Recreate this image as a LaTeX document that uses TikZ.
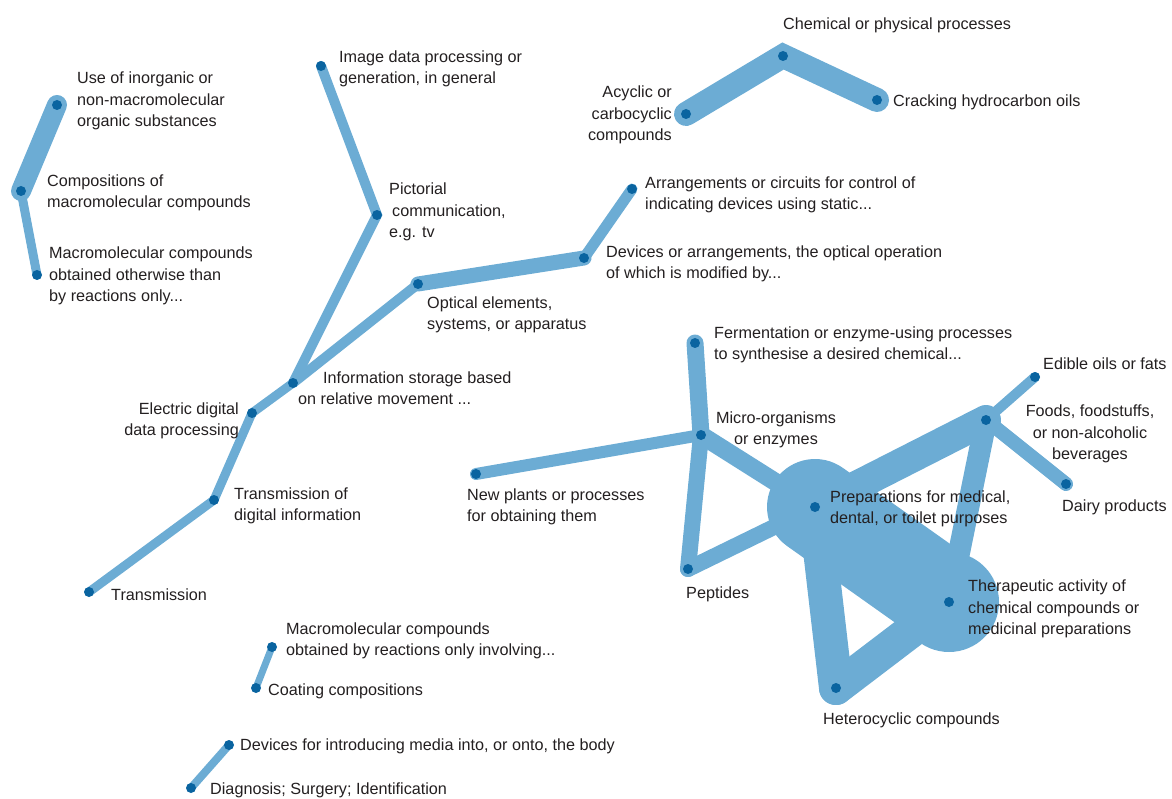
\documentclass[tikz,border=0pt]{standalone}
\usepackage{fontspec}
\setmainfont{Liberation Sans}
\definecolor{bandc}{RGB}{108,172,212}
\definecolor{dotc}{RGB}{10,100,160}
\definecolor{txt}{RGB}{35,31,32}
\tikzset{
  bandline/.style={draw=bandc, line cap=round, line join=round},
  dotn/.style={circle, fill=dotc, inner sep=0pt, minimum size=10pt},
  lbl/.style={inner sep=0pt, text=txt, font=\fontsize{16.2}{21.5}\selectfont, align=left},
}
\begin{document}
\begin{tikzpicture}[x=1pt,y=-1pt]
\useasboundingbox (0,0) rectangle (1172,799);
% positions
\coordinate (use) at (57,105);
\coordinate (comp) at (21,191);
\coordinate (mot) at (37,275);
\coordinate (img) at (321,66);
\coordinate (pict) at (377,215);
\coordinate (info) at (293,383);
\coordinate (elec) at (252,413);
\coordinate (tdig) at (214,500);
\coordinate (trans) at (89,592);
\coordinate (opt) at (418,284);
\coordinate (dev) at (584,258);
\coordinate (arr) at (632,189);
\coordinate (chem) at (783,56);
\coordinate (acy) at (686,114);
\coordinate (crack) at (877,100);
\coordinate (ferm) at (695,343);
\coordinate (micro) at (701,435);
\coordinate (plants) at (476,474);
\coordinate (pept) at (688,569);
\coordinate (prep) at (815,507);
\coordinate (ther) at (949,602);
\coordinate (het) at (836,688);
\coordinate (foods) at (986,420);
\coordinate (edible) at (1035,377);
\coordinate (dairy) at (1066,484);
\coordinate (mreact) at (272,647);
\coordinate (coat) at (256,688);
\coordinate (devin) at (229,745);
\coordinate (diag) at (191,788);
% bands
\draw[bandline, line width=20pt] (use) -- (comp);
\draw[bandline, line width=9pt] (comp) -- (mot);
\draw[bandline, line width=10pt, line join=miter] (img) -- (pict) -- (info);
\draw[bandline, line width=9pt] (info) -- (elec);
\draw[bandline, line width=9pt] (elec) -- (tdig);
\draw[bandline, line width=9pt] (tdig) -- (trans);
\draw[bandline, line width=10pt] (info) -- (opt);
\draw[bandline, line width=15pt] (opt) -- (dev);
\draw[bandline, line width=11pt] (dev) -- (arr);
\draw[bandline, line width=24pt, line join=miter] (acy) -- (chem) -- (crack);
\draw[bandline, line width=17pt] (ferm) -- (micro);
\draw[bandline, line width=12pt] (micro) -- (plants);
\draw[bandline, line width=16pt] (micro) -- (pept);
\draw[bandline, line width=18pt] (micro) -- (prep);
\draw[bandline, line width=16pt] (pept) -- (prep);
\draw[bandline, line width=30pt] (prep) -- (foods);
\draw[bandline, line width=10pt] (foods) -- (edible);
\draw[bandline, line width=14pt] (foods) -- (dairy);
\draw[bandline, line width=22pt] (foods) -- (ther);
\draw[bandline, line width=96pt] (prep) -- (ther);
\draw[bandline, line width=34pt] (prep) -- (het);
\draw[bandline, line width=34pt] (het) -- (ther);
\fill[bandc] (ther) circle (50pt);
\draw[bandline, line width=7pt] (mreact) -- (coat);
\draw[bandline, line width=8pt] (devin) -- (diag);
% dots
\foreach \p in {use,comp,mot,img,pict,info,elec,tdig,trans,opt,dev,arr,chem,acy,crack,ferm,micro,plants,pept,prep,ther,het,foods,edible,dairy,mreact,coat,devin,diag}
  \node[dotn] (\p-d) at (\p) {};
% labels
\node[lbl, anchor=west] (use-l) at (77,101) {Use of inorganic or\\non-macromolecular\\organic substances};
\node[lbl, anchor=west] (comp-l) at (47,193) {Compositions of\\macromolecular compounds};
\node[lbl, anchor=west] (mot-l) at (49,276) {Macromolecular compounds\\obtained otherwise than\\by reactions only...};
\node[lbl, anchor=west] (img-l) at (339,69) {Image data processing or\\generation, in general};
\node[lbl, anchor=west] (pict-l) at (389,212) {Pictorial\\\hspace*{3pt}communication,\\e.g. tv};
\node[lbl, anchor=west] (info-l) at (298,388) {\hspace*{25pt}Information storage based\\on relative movement ...};
\node[lbl, anchor=east, align=right] (elec-l) at (239,421) {Electric digital\\data processing};
\node[lbl, anchor=west] (tdig-l) at (234,506) {Transmission of\\digital information};
\node[lbl, anchor=west] (trans-l) at (111,595) {Transmission};
\node[lbl, anchor=west] (opt-l) at (427,315) {Optical elements,\\systems, or apparatus};
\node[lbl, anchor=west] (dev-l) at (606,264) {Devices or arrangements, the optical operation\\of which is modified by...};
\node[lbl, anchor=west] (arr-l) at (645,195) {Arrangements or circuits for control of\\indicating devices using static...};
\node[lbl, anchor=west] (chem-l) at (783,25) {Chemical or physical processes};
\node[lbl, anchor=east, align=right] (acy-l) at (672,115) {Acyclic or\\carbocyclic\\compounds};
\node[lbl, anchor=west] (crack-l) at (893,102) {Cracking hydrocarbon oils};
\node[lbl, anchor=west] (ferm-l) at (714,345) {Fermentation or enzyme-using processes\\to synthesise a desired chemical...};
\node[lbl, align=center] (micro-l) at (776,430) {Micro-organisms\\or enzymes};
\node[lbl, anchor=west] (plants-l) at (467,507) {New plants or processes\\for obtaining them};
\node[lbl, anchor=west] (pept-l) at (686,594) {Peptides};
\node[lbl, anchor=west] (prep-l) at (830,509) {Preparations for medical,\\dental, or toilet purposes};
\node[lbl, anchor=west] (ther-l) at (968,609) {Therapeutic activity of\\chemical compounds or\\medicinal preparations};
\node[lbl, anchor=west] (het-l) at (823,720) {Heterocyclic compounds};
\node[lbl, align=center] (foods-l) at (1090,434) {Foods, foodstuffs,\\or non-alcoholic\\beverages};
\node[lbl, anchor=west] (edible-l) at (1043,364) {Edible oils or fats};
\node[lbl, anchor=west] (dairy-l) at (1062,507) {Dairy products};
\node[lbl, anchor=west] (mreact-l) at (286,641) {Macromolecular compounds\\obtained by reactions only involving...};
\node[lbl, anchor=west] (coat-l) at (268,691) {Coating compositions};
\node[lbl, anchor=west] (devin-l) at (240,746) {Devices for introducing media into, or onto, the body};
\node[lbl, anchor=west] (diag-l) at (210,790) {Diagnosis; Surgery; Identification};
\end{tikzpicture}
\end{document}
